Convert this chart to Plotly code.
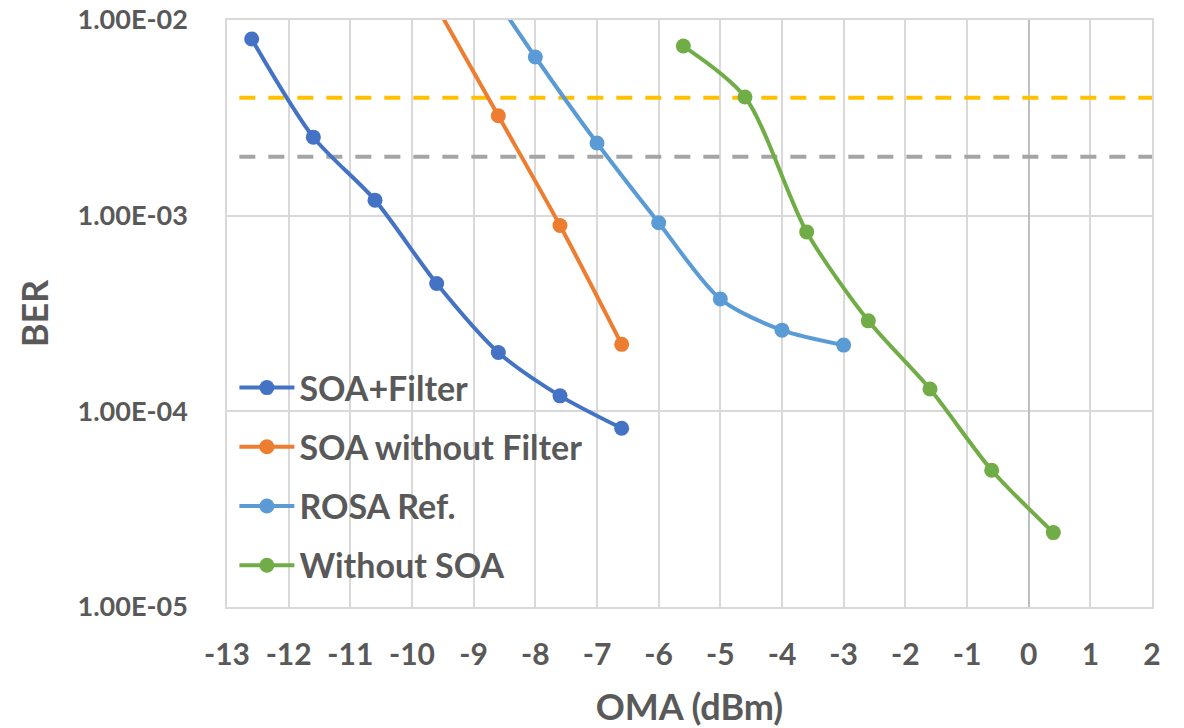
import plotly.graph_objects as go

# ---- data ----
soa_filter_x = [-12.6, -11.6, -10.6, -9.6, -8.6, -7.6, -6.6]
soa_filter_y = [8.0e-3, 2.52e-3, 1.2e-3, 4.5e-4, 2.0e-4, 1.2e-4, 8.2e-5]

soa_nofilter_x = [-9.6, -8.6, -7.6, -6.6]
soa_nofilter_y = [1.17e-2, 3.24e-3, 8.9e-4, 2.2e-4]

rosa_x = [-9.0, -8.0, -7.0, -6.0, -5.0, -4.0, -3.0]
rosa_y = [1.9e-2, 6.47e-3, 2.35e-3, 9.2e-4, 3.75e-4, 2.6e-4, 2.18e-4]

nosoa_x = [-5.6, -4.6, -3.6, -2.6, -1.6, -0.6, 0.4]
nosoa_y = [7.36e-3, 4.04e-3, 8.26e-4, 2.9e-4, 1.3e-4, 5.0e-5, 2.4e-5]

thr_x = [-12.8, 2.0]
thr_high = [4.0e-3, 4.0e-3]
thr_low = [2.0e-3, 2.0e-3]

x_ticks = list(range(-13, 3))
x_ticktext = [str(v) for v in x_ticks]
y_tickvals = [1e-5, 1e-4, 1e-3, 1e-2]
y_ticktext = ["1.00E-05", "1.00E-04", "1.00E-03", "1.00E-02"]

names = ["SOA+Filter", "SOA without Filter", "ROSA Ref.", "Without SOA"]
colors = ["#4472C4", "#ED7D31", "#5B9BD5", "#70AD47"]

FONT = "Lato"
TXT = "#595959"

fig = go.Figure()

# threshold dashed lines (not in legend)
fig.add_trace(go.Scatter(x=thr_x, y=thr_high, mode="lines", showlegend=False,
                         line=dict(color="#FFC000", width=4, dash="16px,13px"),
                         hoverinfo="skip"))
fig.add_trace(go.Scatter(x=thr_x, y=thr_low, mode="lines", showlegend=False,
                         line=dict(color="#A5A5A5", width=4, dash="16px,13px"),
                         hoverinfo="skip"))

series = [(soa_filter_x, soa_filter_y), (soa_nofilter_x, soa_nofilter_y),
          (rosa_x, rosa_y), (nosoa_x, nosoa_y)]
for i, ((xs, ys), nm, c) in enumerate(zip(series, names, colors)):
    fig.add_trace(go.Scatter(
        x=xs, y=ys, name=nm, mode="lines+markers",
        legendgroup=f"g{i}",
        line=dict(color=c, width=4, shape="spline", smoothing=0.8),
        marker=dict(color=c, size=15, symbol="circle"),
    ))

fig.update_layout(
    width=1184, height=728,
    margin=dict(l=227, r=32, t=20, b=121, autoexpand=False),
    paper_bgcolor="white", plot_bgcolor="white",
    font=dict(family=FONT, color=TXT),
    legend=dict(
        x=0.008, y=0.4225, xanchor="left", yanchor="top",
        bgcolor="rgba(0,0,0,0)",
        font=dict(family=FONT, size=34, color=TXT, weight="bold"),
        itemwidth=55, traceorder="grouped", tracegroupgap=12,
    ),
    xaxis=dict(
        range=[-13, 2], tickmode="array", tickvals=x_ticks, ticktext=x_ticktext,
        automargin=False,
        showgrid=True, gridcolor="#D9D9D9", gridwidth=1.5,
        zeroline=True, zerolinecolor="#BFBFBF", zerolinewidth=1.5,
        showline=True, linecolor="#D9D9D9", linewidth=1.5, mirror=True,
        ticks="", ticklabelstandoff=20,
        tickfont=dict(family=FONT, size=30, color=TXT, weight="bold"),
        title=dict(text="OMA (dBm)", standoff=28,
                   font=dict(family=FONT, size=36, color=TXT, weight="bold")),
    ),
    yaxis=dict(
        type="log", range=[-5, -2], tickmode="array",
        tickvals=y_tickvals, ticktext=y_ticktext,
        automargin=False,
        showgrid=True, gridcolor="#D9D9D9", gridwidth=1.5,
        showline=True, linecolor="#D9D9D9", linewidth=1.5, mirror=True,
        ticks="", ticklabelstandoff=32,
        tickfont=dict(family=FONT, size=27, color=TXT, weight="bold"),
        title=dict(text="BER", standoff=18,
                   font=dict(family=FONT, size=36, color=TXT, weight="bold")),
    ),
)

fig.write_html("out.html")
